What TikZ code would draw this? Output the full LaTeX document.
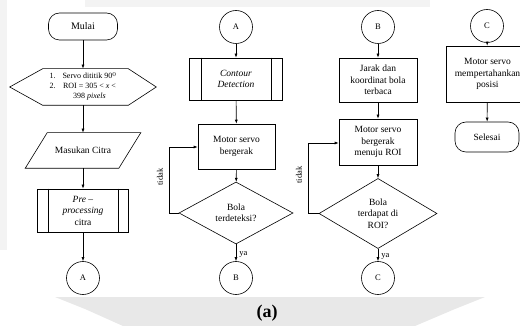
\documentclass[tikz,border=0pt]{standalone}
\usepackage{fontspec}
\setmainfont{Liberation Serif}
\usetikzlibrary{shapes.geometric,arrows.meta}
\definecolor{band}{HTML}{E8E8E8}
\definecolor{faint}{HTML}{F3F3F3}
\begin{document}
\begin{tikzpicture}[x=1pt,y=-1pt,
  line width=0.6pt,
  every node/.style={font=\fontsize{9.5}{11.5}\selectfont, inner sep=1pt},
  arr/.style={-{Latex[length=4pt,width=3pt]}},
  term/.style={draw, rounded corners=11pt, align=center},
  box/.style={draw, align=center},
  hide/.style={align=center},
  conn/.style={draw, circle, minimum size=33pt, inner sep=0pt, font=\fontsize{8.5}{9}\selectfont},
  dec/.style={draw, diamond, inner sep=0pt, align=center},
  lbl/.style={font=\fontsize{8.5}{9}\selectfont}
]
\useasboundingbox (0,0) rectangle (520,326);
% background noise
\fill[faint] (85,0) rectangle (430,7);
\fill[faint] (0,0) rectangle (7,250);
\fill[band] (55,297) -- (485,297) -- (455,309) -- (415,326) -- (123,326) -- (85,309) -- cycle;

% ---------- column 1
\node[term, minimum width=69pt, minimum height=27pt, font=\fontsize{10}{12}\selectfont] (mulai) at (83,26.5) {Mulai};
\node[hide, minimum width=146pt, minimum height=36pt, font=\fontsize{8}{10}\selectfont] (prep) at (83,87)
  {\begin{tabular}{@{}l@{\hspace{7pt}}c@{}}1. & Servo dititik 90$^{0}$\\ 2. & ROI = 305 < \textit{x} <\\ & 398 \textit{pixels}\end{tabular}};
\draw (prep.west) -- ([xshift=33pt]prep.north west) -- ([xshift=-28pt]prep.north east) -- (prep.east)
  -- ([xshift=-28pt]prep.south east) -- ([xshift=33pt]prep.south west) -- cycle;
\node[hide, minimum width=115pt, minimum height=35pt] (inp) at (83,150.5) {Masukan Citra};
\draw ([xshift=22pt]inp.north west) -- (inp.north east) -- ([xshift=-22pt]inp.south east) -- (inp.south west) -- cycle;
\node[box, minimum width=91pt, minimum height=43pt] (pre) at (83,210.5) {\textit{Pre –}\\\textit{processing}\\citra};
\draw ([xshift=11pt]pre.north west) -- ([xshift=11pt]pre.south west);
\draw ([xshift=-11pt]pre.north east) -- ([xshift=-11pt]pre.south east);
\node[conn] (a1) at (83,278) {A};
\draw[arr] (mulai) -- (prep);
\draw[arr] (prep) -- (inp);
\draw[arr] (inp) -- (pre);
\draw[arr] (pre) -- (a1);

% ---------- column 2
\node[conn] (a2) at (236,27) {A};
\node[box, minimum width=93pt, minimum height=42pt] (cont) at (236,79) {\textit{Contour}\\\textit{Detection}};
\draw ([xshift=12pt]cont.north west) -- ([xshift=12pt]cont.south west);
\draw ([xshift=-12pt]cont.north east) -- ([xshift=-12pt]cont.south east);
\node[box, minimum width=77pt, minimum height=45pt] (mot1) at (236.5,146.5) {Motor servo\\bergerak};
\node[dec, minimum width=114pt, minimum height=62pt] (d1) at (236,213) {Bola\\terdeteksi?};
\node[conn] (b1) at (236,278) {B};
\coordinate (l1) at (169,147);
\draw[arr] (a2) -- (cont);
\draw[arr] (cont) -- (mot1);
\draw[arr] (mot1) -- (d1);
\draw[arr] (d1) -- node[lbl, right=2pt, pos=0.6] (y1) {ya} (b1);
\draw[arr] (d1.west) -| (l1) -- (l1 -| mot1.west);
\node[lbl, rotate=90] (t1) at (160,177) {tidak};

% ---------- column 3
\node[conn] (b2) at (378,27) {B};
\node[box, minimum width=78pt, minimum height=44pt] (jar) at (378,80) {Jarak dan\\koordinat bola\\terbaca};
\node[box, minimum width=78pt, minimum height=46pt] (mot2) at (378,142) {Motor servo\\bergerak\\menuju ROI};
\node[dec, minimum width=118pt, minimum height=63pt] (d2) at (378,213.5) {Bola\\terdapat di\\ROI?};
\node[conn] (c1) at (378,278) {C};
\coordinate (l2) at (308,143);
\draw[arr] (b2) -- (jar);
\draw[arr] (jar) -- (mot2);
\draw[arr] (mot2) -- (d2);
\draw[arr] (d2) -- node[lbl, right=2pt, pos=0.6] (y2) {ya} (c1);
\draw[arr] (d2.west) -| (l2) -- (l2 -| mot2.west);
\node[lbl, rotate=90] (t2) at (299,175) {tidak};

% ---------- column 4
\node[conn] (c2) at (487,26) {C};
\node[box, minimum width=83pt, minimum height=56pt] (mot3) at (487.5,74) {Motor servo\\mempertahankan\\posisi};
\node[term, minimum width=64pt, minimum height=30pt] (sel) at (487,137) {Selesai};
\draw[arr] (c2) -- (mot3);
\draw[arr] (mot3) -- (sel);

% caption
\node[font=\fontsize{18}{20}\selectfont\bfseries] (cap) at (267,313) {(a)};
\end{tikzpicture}
\end{document}
